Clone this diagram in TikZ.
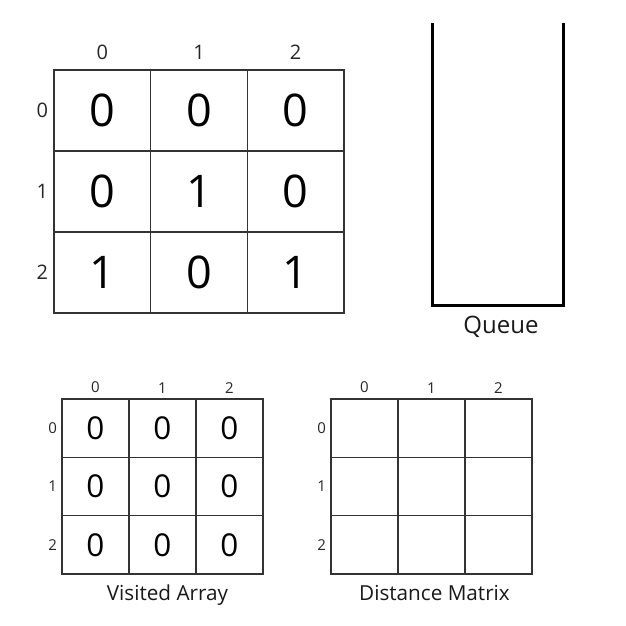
\documentclass[tikz,border=0pt]{standalone}
\usepackage{fontspec}
\setmainfont{Open Sans}
\usetikzlibrary{positioning}
\newcommand{\bignum}{\fontsize{45}{45}\selectfont}
\newcommand{\smallnum}{\fontsize{31.5}{31.5}\selectfont}

\begin{document}
\begin{tikzpicture}[x=1pt, y=-1pt,
	every node/.style={inner sep=0pt, outer sep=0pt},
	bigcell/.style={draw=black!80, line width=1.5pt, minimum width=96.7pt, minimum height=81pt, font=\bignum},
	smallcell/.style={draw=black!80, line width=1.5pt, minimum width=67pt, minimum height=58.3pt, font=\smallnum},
	biglabel/.style={font=\fontsize{20}{20}\selectfont, text=black!85},
	smalllabel/.style={font=\fontsize{15}{15}\selectfont, text=black!85},
	titletext/.style={font=\fontsize{20.7}{20.7}\selectfont, text=black!90},
	queuewall/.style={line width=3pt, line join=miter}]
	\useasboundingbox (0,0) rectangle (626,625);
	
	\node[bigcell] (m00) at (102.3,110.5) {0};
	\node[bigcell, right=0pt of m00] (m01) {0};
	\node[bigcell, right=0pt of m01] (m02) {0};
	\node[bigcell, below=0pt of m00] (m10) {0};
	\node[bigcell, right=0pt of m10] (m11) {1};
	\node[bigcell, right=0pt of m11] (m12) {0};
	\node[bigcell, below=0pt of m10] (m20) {1};
	\node[bigcell, right=0pt of m20] (m21) {0};
	\node[bigcell, right=0pt of m21] (m22) {1};
	
	\node[biglabel, above=10.5pt of m00] (mc0) {0};
	\node[biglabel, above=10.5pt of m01] (mc1) {1};
	\node[biglabel, above=10.5pt of m02] (mc2) {2};
	\node[biglabel, left=6pt of m00] (mr0) {0};
	\node[biglabel, left=6pt of m10] (mr1) {1};
	\node[biglabel, left=6pt of m20] (mr2) {2};
	
	\coordinate (qtl) at (432,23);
	\coordinate (qtr) at (563,23);
	\coordinate (qbr) at (563,305);
	\draw[queuewall] (qtl) |- (qbr) -- (qtr);
	\path (qtl |- qbr) -- (qbr) coordinate[midway] (qb);
	\node[titletext, below=11pt of qb, xshift=3.5pt, font=\fontsize{24}{24}\selectfont] (queue) {Queue};
	
	\node[smallcell] (v00) at (95.5,428.2) {0};
	\node[smallcell, right=0pt of v00] (v01) {0};
	\node[smallcell, right=0pt of v01] (v02) {0};
	\node[smallcell, below=0pt of v00] (v10) {0};
	\node[smallcell, right=0pt of v10] (v11) {0};
	\node[smallcell, right=0pt of v11] (v12) {0};
	\node[smallcell, below=0pt of v10] (v20) {0};
	\node[smallcell, right=0pt of v20] (v21) {0};
	\node[smallcell, right=0pt of v21] (v22) {0};
	
	\node[smalllabel, above=6pt of v00] (vc0) {0};
	\node[smalllabel, above=6pt of v01] (vc1) {1};
	\node[smalllabel, above=6pt of v02] (vc2) {2};
	\node[smalllabel, left=5pt of v00] (vr0) {0};
	\node[smalllabel, left=5pt of v10] (vr1) {1};
	\node[smalllabel, left=5pt of v20] (vr2) {2};
	\node[titletext, below=11pt of v21, xshift=5pt] (visited) {Visited Array};
	
	\node[smallcell] (d00) at (364.5,428.2) {};
	\node[smallcell, right=0pt of d00] (d01) {};
	\node[smallcell, right=0pt of d01] (d02) {};
	\node[smallcell, below=0pt of d00] (d10) {};
	\node[smallcell, right=0pt of d10] (d11) {};
	\node[smallcell, right=0pt of d11] (d12) {};
	\node[smallcell, below=0pt of d10] (d20) {};
	\node[smallcell, right=0pt of d20] (d21) {};
	\node[smallcell, right=0pt of d21] (d22) {};
	
	\node[smalllabel, above=6pt of d00] (dc0) {0};
	\node[smalllabel, above=6pt of d01] (dc1) {1};
	\node[smalllabel, above=6pt of d02] (dc2) {2};
	\node[smalllabel, left=5pt of d00] (dr0) {0};
	\node[smalllabel, left=5pt of d10] (dr1) {1};
	\node[smalllabel, left=5pt of d20] (dr2) {2};
	\node[titletext, below=11pt of d21, xshift=3pt] (distance) {Distance Matrix};
\end{tikzpicture}
\end{document}
